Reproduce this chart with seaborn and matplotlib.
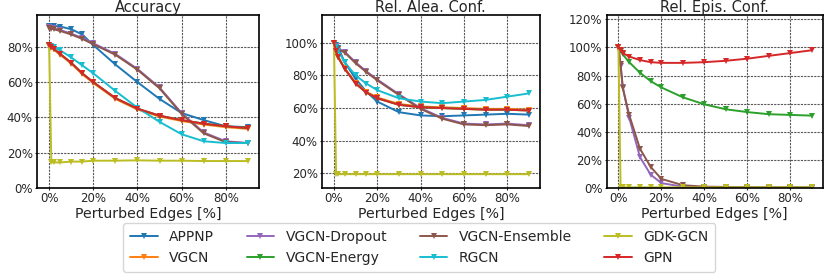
import numpy as np
import pandas as pd
import matplotlib
matplotlib.use("Agg")
import matplotlib.pyplot as plt
import seaborn as sns
from matplotlib.ticker import PercentFormatter

## Perturbed edges [%]
edges = [0, 1, 2, 5, 10, 15, 20, 30, 40, 50, 60, 70, 80, 90]

methods = ["APPNP", "VGCN", "VGCN-Dropout", "VGCN-Energy",
           "VGCN-Ensemble", "RGCN", "GDK-GCN", "GPN"]
colors = ["tab:blue", "tab:orange", "tab:purple", "tab:green",
          "tab:brown", "tab:cyan", "tab:olive", "tab:red"]

nan = np.nan

## Accuracy [%]
acc_appnp = [92, 92, 92, 91.5, 90, 87, 81, 70, 60, 50.5, 42.5, 38.5, 35, 34.5]
acc_vgcn = [80.5, 79.5, 78.5, 75.5, 70.5, 64.5, 59.5, 50.5, 44.5, 40.5, 38, 36, 34.5, 33.5]
acc_dropout = [91, 90.8, 90.5, 89.5, 87.5, 85, 82, 76, 67.5, 57, 42.5, 31.5, 26.5, 25.5]
acc_energy = [81, 80, 79, 76, 71, 65, 60, 51, 45, 41, 38.5, 36.5, 35, 34]
acc_ensemble = [90.5, 90.3, 90, 89, 87, 84.5, 81.5, 75.5, 67, 56.5, 42, 31, 26, 25.5]
acc_rgcn = [81, 80.5, 80, 78, 74, 69.5, 65, 55, 45.5, 37.5, 30.5, 26.5, 25.5, 25.5]
acc_gdk = [81, 14.5, 14.5, 14.5, 15, 15, 15.5, 15.5, 15.7, 15.5, 15.5, 15.3, 15.3, 15.3]
acc_gpn = [81, 80, 79, 76, 71, 65, 60, 51, 45, 41, 38.5, 36.5, 35, 34]

## Relative aleatoric confidence [%]
alea_appnp = [100, 98.5, 97, 88, 78, 70, 64, 57.5, 55.5, 55, 55.5, 56, 56.5, 56]
alea_vgcn = [100, 95, 91.5, 84.5, 75.5, 70, 66.5, 62.5, 61, 60.5, 60, 59.5, 59.5, 59]
alea_dropout = [100, 98, 96.5, 94.5, 88, 82.5, 77.5, 68.5, 60, 54, 50.5, 50, 50.5, 49.5]
alea_energy = [100, 95, 91, 84, 75, 69.5, 66, 62, 60.5, 60, 59.5, 59, 59, 58.5]
alea_ensemble = [100, 97.5, 96, 94, 87.5, 82, 77, 68, 59.5, 53.5, 50, 49.5, 50, 49]
alea_rgcn = [100, 97.5, 95, 88, 80, 75, 71, 66, 64, 63, 64, 65, 67, 69]
alea_gdk = [100, 19.5, 19.5, 19.5, 19.5, 19.5, 19.5, 19.5, 19.5, 19.5, 19.5, 19.5, 19.5, 19.5]
alea_gpn = [100, 95, 91, 84, 75, 69.5, 66, 62, 60.5, 60, 59.5, 59, 59, 58.5]

## Relative epistemic confidence [%]
epis_appnp = [nan] * 14
epis_vgcn = [nan] * 14
epis_dropout = [100, 87, 72, 50, 22, 9.5, 3.5, 1, 0.5, 0.4, 0.3, 0.3, 0.3, 0.3]
epis_energy = [100, 97.5, 95, 89.5, 82, 76, 71.5, 64.5, 59.5, 56, 54, 52.5, 52, 51.5]
epis_ensemble = [100, 88, 71, 52, 28, 15, 6.5, 2, 1, 0.8, 0.6, 0.5, 0.5, 0.5]
epis_rgcn = [nan] * 14
epis_gdk = [100, 0.5, 0.5, 0.5, 0.5, 0.5, 0.5, 0.5, 0.5, 0.5, 0.5, 0.5, 0.5, 0.5]
epis_gpn = [100, 98.5, 96, 93.5, 91, 89.5, 89, 89, 89.5, 90.5, 92, 94, 96, 98]

panels = [
    ("Accuracy", [acc_appnp, acc_vgcn, acc_dropout, acc_energy,
                  acc_ensemble, acc_rgcn, acc_gdk, acc_gpn]),
    ("Rel. Alea. Conf.", [alea_appnp, alea_vgcn, alea_dropout, alea_energy,
                          alea_ensemble, alea_rgcn, alea_gdk, alea_gpn]),
    ("Rel. Epis. Conf.", [epis_appnp, epis_vgcn, epis_dropout, epis_energy,
                          epis_ensemble, epis_rgcn, epis_gdk, epis_gpn]),
]
ylims = [(0, 98), (11, 117), (0, 123)]
yticks = [[0, 20, 40, 60, 80], [20, 40, 60, 80, 100], [0, 20, 40, 60, 80, 100, 120]]

sns.set_style("ticks")
plt.rcParams["font.family"] = ["DejaVu Sans"]

fig = plt.figure(figsize=(8.31, 2.79), dpi=100)
positions = [[0.0445, 0.326, 0.267, 0.62],
             [0.3875, 0.326, 0.262, 0.62],
             [0.730, 0.326, 0.260, 0.62]]

for i, (title, series) in enumerate(panels):
    ax = fig.add_axes(positions[i])
    for name, col, vals in zip(methods, colors, series):
        df = pd.DataFrame({"edges": edges, "value": vals})
        sns.lineplot(data=df, x="edges", y="value", ax=ax, color=col,
                     marker="v", markersize=4, markeredgewidth=0,
                     linewidth=1.4, label=name, legend=False)
    ax.set_title(title, fontsize=10.5, pad=1.5)
    ax.set_xlabel("Perturbed Edges [%]", fontsize=10.2, labelpad=1)
    ax.set_ylabel("")
    ax.set_xlim(-5.5, 95)
    ax.set_ylim(*ylims[i])
    ax.set_xticks([0, 20, 40, 60, 80])
    ax.set_yticks(yticks[i])
    ax.xaxis.set_major_formatter(PercentFormatter(100, decimals=0))
    ax.yaxis.set_major_formatter(PercentFormatter(100, decimals=0))
    ax.tick_params(labelsize=8.5, length=1.5, pad=1.5)
    ax.grid(True, linestyle=(0, (2, 1)), color="0.35", linewidth=0.8)
    for sp in ax.spines.values():
        sp.set_color("black")
        sp.set_linewidth(1.2)
    if i == 0:
        handles, labels = ax.get_legend_handles_labels()

fig.legend(handles, labels, loc="lower center", ncol=4, fontsize=10,
           bbox_to_anchor=(0.5045, 0.0), columnspacing=2.35, handlelength=2.0,
           borderpad=0.5, labelspacing=0.5)

fig.savefig("out.png", dpi=100)
